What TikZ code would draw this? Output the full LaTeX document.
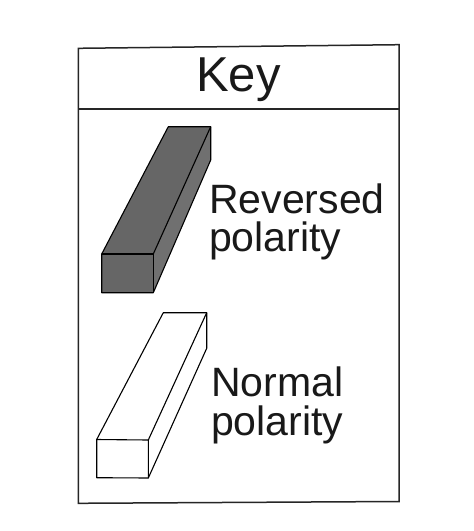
\documentclass[tikz,border=0pt]{standalone}
\usepackage{fontspec}
\setmainfont{Liberation Sans}
\begin{document}
\begin{tikzpicture}[x=1pt,y=-1pt,
  frame/.style={draw=black!85,line width=1.5pt,line join=miter},
  bar/.style={draw=black,line width=1.1pt,line join=round},
  lbl/.style={anchor=base west,inner sep=0pt,text=black!90,font=\fontsize{41}{38}\selectfont},
  title/.style={anchor=base,inner sep=0pt,text=black!90,font=\fontsize{49}{49}\selectfont}]
\path[fill=white,use as bounding box] (0,0) rectangle (474,531);
% frame
\coordinate (tl) at (78.3,48.3);
\coordinate (tr) at (399,44.7);
\coordinate (br) at (399,501.5);
\coordinate (bl) at (78.3,503.3);
\coordinate (sl) at (78.3,109);
\coordinate (sr) at (399,109);
\draw[frame] (tl) -- (tr) -- (br) -- (bl) -- cycle;
\draw[frame] (sl) -- (sr);
\node[title] (key) at (238.5,91) {Key};
% reversed bar (dark)
\coordinate (a1) at (101.7,254);
\coordinate (a2) at (153.3,254);
\coordinate (a3) at (153.3,292.7);
\coordinate (a4) at (101.7,292.7);
\coordinate (a5) at (168.3,126.7);
\coordinate (a6) at (210.7,126.7);
\coordinate (a7) at (210.7,160);
\fill[black!60] (a1) -- (a5) -- (a6) -- (a2) -- cycle;
\fill[black!56] (a2) -- (a6) -- (a7) -- (a3) -- cycle;
\fill[black!60] (a1) -- (a2) -- (a3) -- (a4) -- cycle;
\draw[bar] (a1) -- (a5) -- (a6) -- (a7) -- (a3) -- (a4) -- cycle;
\draw[bar] (a1) -- (a2) -- (a3);
\draw[bar] (a2) -- (a6);
\node[lbl] (rev1) at (209,213) {Reversed};
\node[lbl] (rev2) at (209,251) {polarity};
% normal bar (white)
\coordinate (b1) at (96.7,439.5);
\coordinate (b2) at (148.3,440);
\coordinate (b3) at (148.3,478);
\coordinate (b4) at (96.7,477.7);
\coordinate (b5) at (163.3,312.7);
\coordinate (b6) at (206.7,312.7);
\coordinate (b7) at (206.7,348.3);
\fill[white] (b1) -- (b5) -- (b6) -- (b7) -- (b3) -- (b4) -- cycle;
\draw[bar] (b1) -- (b5) -- (b6) -- (b7) -- (b3) -- (b4) -- cycle;
\draw[bar] (b1) -- (b2) -- (b3);
\draw[bar] (b2) -- (b6);
\node[lbl] (nor1) at (211,396.7) {Normal};
\node[lbl] (nor2) at (211,435) {polarity};
\end{tikzpicture}
\end{document}
